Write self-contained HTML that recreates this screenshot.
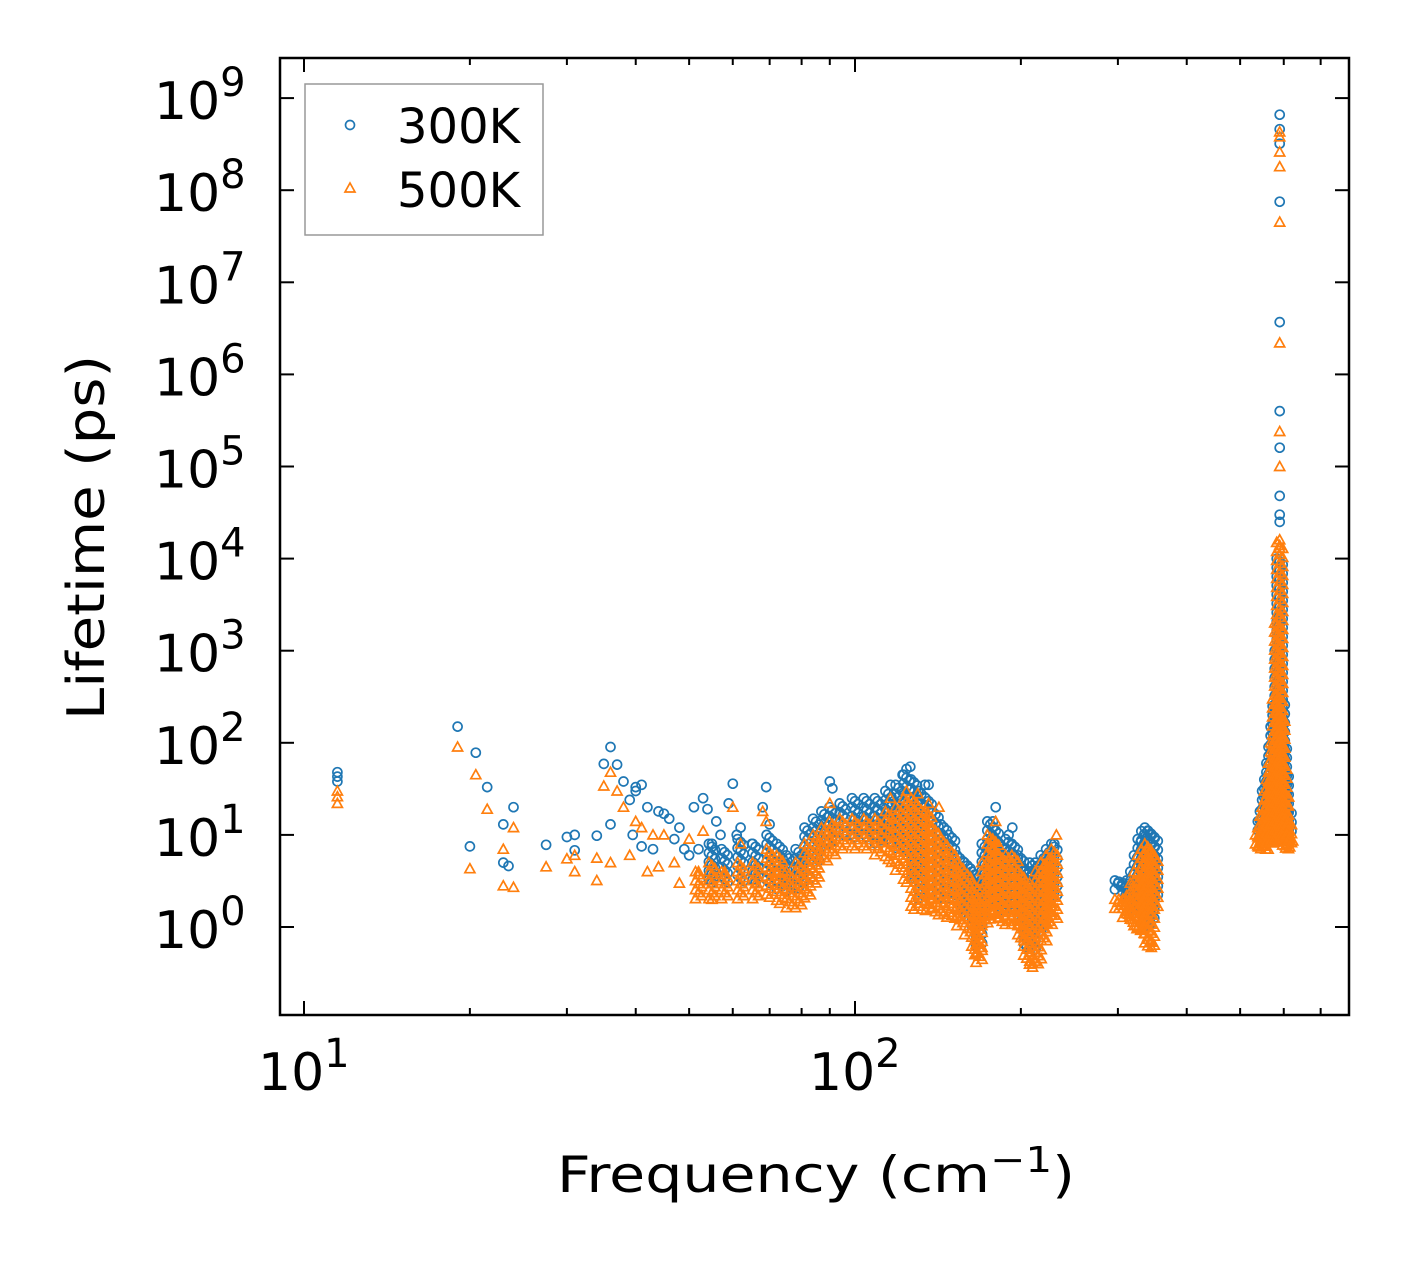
<!DOCTYPE html>
<html><head><meta charset="utf-8"><style>
html,body{margin:0;padding:0;background:#fff;}
svg{display:block;font-family:"DejaVu Sans","Liberation Sans",sans-serif;}
</style></head><body>
<svg id="chart" width="1409" height="1265" viewBox="0 0 1409 1265" xmlns="http://www.w3.org/2000/svg">
<g id="marks"></g>
<g id="axes"></g>
<g>
<rect x="305" y="84" width="238" height="151" fill="#fff" stroke="#999" stroke-width="1.5"/>
<circle cx="350" cy="125" r="4.5" fill="none" stroke="#1f77b4" stroke-width="1.7"/>
<text x="397" y="143" font-size="48">300K</text>
<path d="M350,183 L355,192 L345,192 Z" fill="none" stroke="#ff7f0e" stroke-width="1.7"/>
<text x="397" y="207" font-size="48">500K</text>
</g>
<text x="557" y="1192" font-size="50" textLength="518" lengthAdjust="spacingAndGlyphs">Frequency (cm<tspan dy="-20" font-size="36">−1</tspan><tspan dy="20">)</tspan></text>
<text x="0" y="0" transform="translate(104,720) rotate(-90)" font-size="52" textLength="365" lengthAdjust="spacingAndGlyphs">Lifetime (ps)</text>
</svg>
<script>
const blueX=[11.5,11.5,11.5,19,20,20.5,21.5,23,23,23.5,24,27.5,30,31,31,34,35,36,36,37,38,39,39.5,40,40,41,41,42,43,44,45,46,47,48,49,50,51,52,53,54,55,56,57,59,60,61,62,65,68,69,70,90,91,116,122,124,126,134,136,172,178,180,190,193,230,590,590,590,590,590,590,590,590,590,590,590,590,590];
const blueY=[48,43,38,150,7.5,78,33,13,5,4.6,20,7.8,9.5,10,6.8,9.8,59,90,13,58,38,24,10,33,30,7.5,35,20,7,18,17,15,9,12,7,6,20,7,25,19,8,14,10,22,36,10,12,8,20,33,13,38,32,35,45,52,55,35,35,6,14,20,10,12,8,6.6e8,4.6e8,3.2e8,7.5e7,3.7e6,4e5,1.6e5,4.8e4,3e4,2.5e4,6e3,3e3,1e3];
const orangeX=[11.5,11.5,11.5,19,20,20.5,21.5,23,23,24,24,27.5,30,31,31,34,34,35,36,36,37,38,39,40,41,42,43,44,45,47,48,50,52,53,55,58,60,62,66,68,69,72,90,116,124,130,136,142,165,170,180,210,215,232,345,345,590,590,590,590,590,590,590,590,590,590,590,590];
const orangeY=[30,26,22,90,4.3,45,19,7,2.8,2.7,12,4.5,5.5,6,4,3.2,5.6,34,48,5,30,20,6,14,12,4,10,4.5,10,5,3,9,4,11,2,4,20,8,3,18,14,4,22,25,30,28,22,20,0.5,0.6,14,0.4,0.4,10,0.7,0.6,4.3e8,3.8e8,2.6e8,1.8e8,4.5e7,2.2e6,2.4e5,1e5,1.6e4,1.3e4,7e3,2.5e3];
const blueEnvX=[55,58,62,66,70,73,76,79,82,85,88,91,95,100,105,110,115,120,124,128,132,136,140,145,150,155,160,165,168,172,176,180,185,190,195,200,205,210,215,220,225,230,300,305,310,315,320,325,330,335,340,345,350,545,550,555,560,565,570,575,580,585,590,595,600,605,612];
const blueEnvLo=[3,3,3,3,3,2.5,2.3,2.5,3,5,7,8,9,9,9,8,8,7,6,3,2,2,2,2,2,1.5,1.2,1,0.6,1.5,2,2,1.5,1.5,1.5,1,0.6,0.5,0.8,1.5,2,2,2.5,2.5,2,2,1.5,1.5,1.5,1.5,1,1.2,2,10,10,10,11,11,12,12,12,12,15,12,10,10,10];
const blueEnvHi=[8,7,9,8,10,8,6,7,12,15,18,20,22,25,25,25,30,35,45,40,30,25,18,13,10,6,5,4,3,8,14,12,8,9,8,6,4,5,5,6,7,8,3.2,3.1,3,3.2,4,6,9,11,12,11,10,14,18,30,40,60,90,150,250,1000,1e4,300,100,50,20];
const orangeEnvX=[52,55,58,62,66,70,73,76,79,82,85,88,91,95,100,105,110,115,120,124,128,132,136,140,145,150,155,160,165,168,172,176,180,185,190,195,200,205,210,215,220,225,230,300,305,310,315,320,325,330,335,340,345,350,540,545,550,555,560,565,570,575,580,585,590,595,600,605,612,615];
const orangeEnvLo=[2,2,2,2,2,2,1.8,1.6,1.6,2,3,5,6,7,7,7,6,5,4,3,1.5,1.5,1.5,1.3,1.2,1.2,1,0.8,0.5,0.4,1,1.2,1.2,1,1,1,0.7,0.4,0.35,0.4,0.7,1,1.2,1.5,1.5,1.2,1.2,1,0.9,0.9,0.8,0.6,0.6,1.5,7,7,7,7,7.5,8,8,8,8,8,9,8,8,7,7,7];
const orangeEnvHi=[4,5,4,5,5,7,6,4,5,8,10,12,14,15,15,15,15,18,20,25,25,20,18,12,9,7,5,4,3,2,5,10,9,6,6,6,4,3,3,4,5,6,7,2,2,2,2.2,3,4,6,7,8,7,6,10,12,16,20,30,40,60,100,300,2000,1.5e4,200,60,30,15,10];
const xTickVals=[10,100];
const xTickExp=["1","2"];
const yTickExp=[0,1,2,3,4,5,6,7,8,9];

const L=280,R=1349,T=58,B=1015;
const xA=304,xPer=551,yA=927,yPer=92.1;
function xs(v){return xA+(Math.log10(v)-1)*xPer;}
function ys(v){return yA-Math.log10(v)*yPer;}
const NS="http://www.w3.org/2000/svg";
const marks=document.getElementById('marks');
const axes=document.getElementById('axes');
function mk(tag,attrs,parent){const e=document.createElementNS(NS,tag);for(const k in attrs)e.setAttribute(k,attrs[k]);parent.appendChild(e);return e;}
function circ(x,y){const c=mk('circle',{cx:x.toFixed(1),cy:y.toFixed(1),r:4.5,fill:'none',stroke:'#1f77b4','stroke-width':1.7},marks);

}
function tri(x,y){const p=mk('path',{d:`M${x.toFixed(1)},${(y-5).toFixed(1)} L${(x+5).toFixed(1)},${(y+4).toFixed(1)} L${(x-5).toFixed(1)},${(y+4).toFixed(1)} Z`,fill:'none',stroke:'#ff7f0e','stroke-width':1.7},marks);

}
function env(X,Lo,Hi,fn){for(let i=0;i<X.length;i++){const x=xs(X[i]);const y1=ys(Hi[i]),y2=ys(Lo[i]);let k=0;for(let y=y1;y<=y2+0.1;y+=3){fn(x+((k%3)-1)*3,y);k++;}}}
env(blueEnvX,blueEnvLo,blueEnvHi,circ);
for(let i=0;i<blueX.length;i++)circ(xs(blueX[i]),ys(blueY[i]));
env(orangeEnvX,orangeEnvLo,orangeEnvHi,tri);
for(let i=0;i<orangeX.length;i++)tri(xs(orangeX[i]),ys(orangeY[i]));

const fr=mk('rect',{x:L,y:T,width:R-L,height:B-T,fill:'none',stroke:'#000','stroke-width':2.5},axes);


for(let d=1;d<=2;d++){for(let m=1;m<=9;m++){const v=m*Math.pow(10,d);const x=xs(v);if(x<L||x>R)continue;const len=m===1?14:7;
const t1=mk('line',{x1:x,x2:x,y1:B,y2:B-len,stroke:'#000','stroke-width':2},axes);


const t2=mk('line',{x1:x,x2:x,y1:T,y2:T+len,stroke:'#000','stroke-width':2},axes);

}}
for(let i=0;i<xTickVals.length;i++){const x=xs(xTickVals[i]);
const t=mk('text',{x:x-46,y:1090,'font-size':52},axes);


t.innerHTML=`10<tspan dy="-23" font-size="40">${xTickExp[i]}</tspan>`;}
for(const e of yTickExp){const y=ys(Math.pow(10,e));
const t1=mk('line',{x1:L,x2:L+14,y1:y,y2:y,stroke:'#000','stroke-width':2},axes);


const t2=mk('line',{x1:R,x2:R-14,y1:y,y2:y,stroke:'#000','stroke-width':2},axes);


const t=mk('text',{x:154,y:y+21,'font-size':52},axes);


t.innerHTML=`10<tspan dy="-23" font-size="40">${e}</tspan>`;}
</script>
</body></html>
